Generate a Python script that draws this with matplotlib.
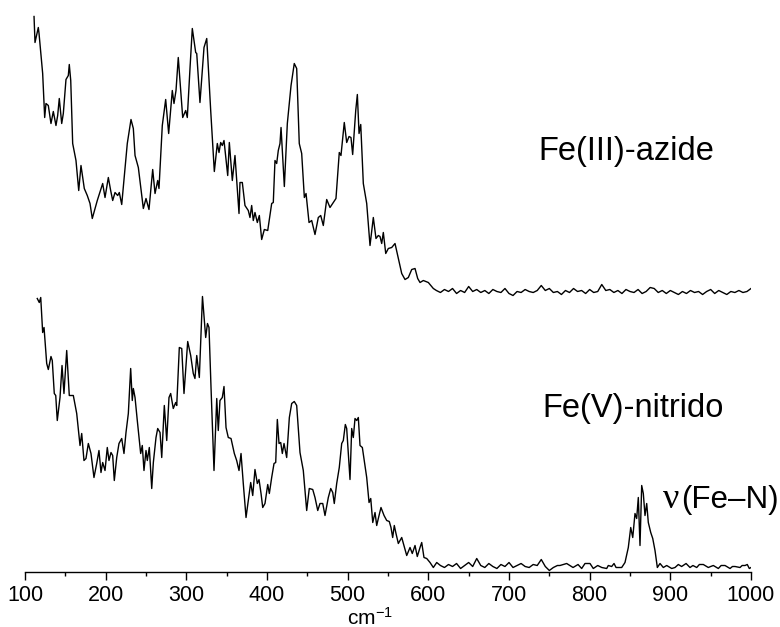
import matplotlib
matplotlib.use("Agg")
import matplotlib.pyplot as plt
from matplotlib.ticker import MultipleLocator

plt.rcParams['font.family'] = ['Liberation Sans', 'DejaVu Sans']
plt.rcParams['mathtext.fontset'] = 'custom'
plt.rcParams['mathtext.rm'] = 'Liberation Sans'
plt.rcParams['mathtext.it'] = 'Liberation Sans:italic'

# ---- data (wavenumber in cm-1, intensity in arbitrary units) ----
azide_x = [111.2, 112.4, 116.5, 117.4, 121.9, 124.4, 126.0, 128.9, 132.2, 135.1, 138.4, 140.5,
           142.5, 145.5, 147.5, 150.8, 153.7, 154.9, 156.7, 159.1, 163.2, 166.6, 169.4, 173.5,
           177.2, 180.6, 183.4, 186.8, 189.6, 196.3, 199.2, 203.3, 206.2, 208.7, 211.6, 214.9,
           216.9, 219.9, 226.8, 231.4, 234.3, 236.4, 240.5, 246.7, 250.0, 253.7, 258.3, 261.2,
           264.5, 266.1, 270.2, 274.4, 278.1, 282.6, 284.7, 287.2, 290.0, 295.5, 299.2, 301.2,
           304.6, 307.4, 311.6, 312.9, 316.9, 321.9, 325.3, 330.2, 334.7, 338.4, 340.5, 342.6,
           344.6, 346.7, 351.3, 353.3, 357.0, 360.3, 365.3, 366.5, 369.4, 372.7, 376.8, 378.9,
           381.0, 383.0, 385.1, 388.0, 390.5, 393.4, 396.7, 400.9, 405.8, 407.8, 409.9, 412.0,
           414.0, 416.1, 417.4, 421.5, 425.2, 429.8, 433.8, 436.8, 440.0, 443.0, 446.3, 448.4,
           452.1, 455.4, 459.5, 463.6, 466.6, 469.8, 474.0, 478.1, 485.5, 489.6, 491.7, 495.8,
           498.8, 501.7, 504.1, 506.2, 510.0, 512.0, 514.1, 516.2, 519.4, 523.6, 527.7, 531.8,
           535.1, 538.0, 540.1, 542.2, 544.2, 547.2, 550.4, 554.6, 558.7, 562.8, 567.0, 571.1,
           575.2, 579.4, 583.5, 586.8, 589.7, 593.8, 600.0, 606.2,
           610, 615, 620, 625, 630, 635, 640, 645, 650, 655, 660, 665, 670, 675, 680, 685, 690,
           695, 700, 705, 710, 715, 720, 725, 730, 735, 740, 745, 750, 755, 760, 765, 770, 775,
           780, 785, 790, 795, 800, 805, 810, 815, 820, 825, 830, 835, 840, 845, 850, 855, 860,
           865, 870, 875, 880, 885, 890, 895, 900, 905, 910, 915, 920, 925, 930, 935, 940, 945,
           950, 955, 960, 965, 970, 975, 980, 985, 990, 995, 1000]
azide_y = [555, 529, 544, 538, 498, 454, 468, 466, 448, 460, 446, 456,
           473, 448, 458, 492, 496, 507, 491, 428, 411, 381, 406, 383,
           376, 368, 353, 363, 371, 388, 374, 394, 381, 371, 379, 376,
           379, 367, 428, 452, 443, 416, 404, 363, 373, 362, 402, 378,
           391, 383, 446, 472, 438, 481, 468, 481, 514, 454, 461, 454,
           504, 543, 519, 518, 469, 524, 533, 461, 400, 428, 419, 429,
           426, 431, 396, 429, 391, 416, 358, 389, 389, 366, 361, 354,
           366, 351, 359, 349, 356, 332, 342, 341, 368, 369, 411, 408,
           421, 428, 444, 385, 448, 486, 508, 503, 428, 418, 374, 378,
           349, 351, 337, 354, 356, 346, 372, 364, 373, 419, 416, 449,
           429, 435, 434, 417, 461, 477, 438, 447, 388, 368, 326, 354,
           333, 336, 335, 328, 339, 318, 323, 324, 328, 313, 298, 292,
           294, 302, 303, 293, 289, 291, 289, 283,
           281, 279, 282, 280, 283, 278, 281, 279, 285, 280, 282, 279, 281, 278, 282, 280, 279,
           283, 278, 276, 280, 279, 282, 280, 279, 281, 286, 281, 283, 279, 280, 277, 281, 279,
           283, 280, 281, 278, 282, 279, 280, 287, 281, 282, 279, 281, 278, 282, 280, 279, 282,
           278, 280, 284, 283, 279, 281, 278, 281, 279, 277, 280, 278, 281, 279, 280, 277, 280,
           282, 278, 281, 279, 277, 280, 279, 281, 279, 280, 283]

nitrido_x = [115.2, 117.7, 119.5, 121.9, 123.6, 126.9, 128.9, 132.2, 133.8, 136.3, 138.1, 140.0,
             143.4, 145.9, 148.3, 151.7, 154.9, 159.9, 164.1, 168.2, 170.3, 173.1, 175.6, 178.5,
             181.8, 185.5, 188.9, 191.7, 194.2, 196.3, 199.2, 202.0, 204.1, 206.6, 208.7, 210.7,
             213.7, 216.5, 219.9, 222.7, 225.2, 228.1, 231.0, 233.0, 234.3, 236.4, 239.2, 243.4,
             245.4, 247.5, 250.0, 251.6, 254.1, 257.1, 259.1, 262.4, 264.5, 267.4, 269.5, 272.7,
             275.7, 278.5, 280.6, 283.8, 286.8, 288.1, 291.3, 294.3, 297.1, 301.7, 305.4, 308.6,
             310.7, 312.9, 316.1, 320.0, 324.0, 326.2, 328.1, 330.6, 334.3, 337.7, 339.6, 341.7,
             344.6, 346.7, 349.2, 352.0, 355.4, 359.5, 362.4, 365.3, 367.8, 370.6, 374.0, 376.8,
             379.8, 382.3, 385.1, 388.0, 390.1, 392.6, 394.7, 397.5, 400.9, 402.9, 405.8, 408.7,
             410.8, 412.8, 414.9, 417.0, 419.0, 421.1, 424.4, 427.7, 430.6, 433.8, 436.8, 440.9,
             445.0, 449.2, 452.4, 456.7, 459.5, 462.9, 465.7, 469.1, 471.9, 476.0, 479.0, 481.5,
             483.4, 486.4, 489.6, 492.6, 494.6, 497.1, 498.8, 502.9, 505.0, 507.0, 509.1, 511.2,
             513.2, 515.3, 518.2, 523.6, 526.5, 528.6, 531.1, 533.9, 536.0, 538.0, 541.3, 545.1,
             548.4, 551.6, 553.7, 555.8, 557.8, 559.9, 562.8, 567.0, 569.8, 573.2, 577.3, 580.1,
             583.5, 586.3, 589.7, 591.8, 594.6, 598.0, 602.1, 606.2, 610.4,
             615, 620, 625, 630, 635, 640, 645, 650, 655, 660, 665, 670, 675, 680, 685, 690, 695,
             700, 705, 710, 715, 720, 725, 730, 735, 740, 745, 750, 755, 760,
             763.2, 771.5, 779.4, 785.6, 790.1, 794.2, 800.4, 804.5, 810.0, 815.0, 821.1, 823.1,
             827.3, 830.2, 832.7, 839.7, 843.8, 847.9, 850.9, 853.4, 856.2, 858.3, 860.3, 862.4,
             864.5, 866.5, 868.6, 870.7, 872.7, 875.7, 878.2, 881.0, 883.9, 887.2, 891.3, 895.5,
             901.7, 905.8, 909.9, 914.0, 919.5, 924.4, 928.0, 932.7, 936.0, 940.9, 947.1, 950.0,
             953.3, 959.5, 963.0, 967.8, 974.0, 977.0, 980.2, 986.4, 989.0, 992.6, 995.4, 997.9,
             1000]
nitrido_y = [273, 269, 274, 239, 244, 208, 202, 215, 211, 178, 176, 151,
             174, 206, 178, 221, 176, 176, 158, 126, 138, 111, 113, 128,
             118, 94, 108, 121, 99, 109, 101, 124, 111, 119, 116, 91,
             114, 128, 133, 118, 139, 158, 203, 171, 183, 174, 151, 118,
             126, 101, 121, 111, 124, 83, 109, 134, 143, 139, 114, 166,
             131, 174, 178, 163, 169, 166, 224, 223, 178, 230, 216, 198,
             193, 216, 194, 275, 234, 248, 244, 184, 101, 173, 141, 171,
             174, 185, 144, 134, 133, 118, 111, 101, 118, 88, 54, 71,
             89, 76, 102, 88, 92, 78, 64, 68, 87, 78, 94, 108,
             109, 152, 128, 129, 118, 128, 114, 154, 168, 170, 166, 119,
             101, 61, 83, 82, 74, 61, 68, 68, 56, 74, 83, 79,
             68, 88, 104, 128, 131, 147, 143, 92, 143, 134, 153, 151,
             154, 126, 124, 94, 69, 73, 49, 59, 46, 53, 64, 56,
             51, 50, 44, 34, 46, 38, 28, 34, 26, 16, 24, 18,
             26, 15, 24, 29, 14, 13, 9, 4, 9,
             6, 4, 7, 5, 8, 3, 6, 9, 5, 13, 6, 4, 8, 5, 3, 7, 5,
             9, 4, 6, 8, 5, 4, 7, 6, 12, 5, 1, 4, 6,
             6, 8, 4, 7, 3, 8, 8, 3, 6, 4, 3, 6,
             5, 8, 4, 4, 9, 24, 44, 34, 58, 53, 74, 26,
             86, 78, 56, 68, 49, 39, 33, 21, 4, 8, 4, 6,
             3, 4, 7, 5, 8, 4, 6, 4, 7, 7, 4, 5,
             6, 3, 6, 6, 3, 5, 5, 4, 6, 6, 7, 3,
             4]

tick_values = [100, 200, 300, 400, 500, 600, 700, 800, 900, 1000]
label_azide = "Fe(III)-azide"
label_nitrido = "Fe(V)-nitrido"
label_nu = "\u03bd"
label_fen = "(Fe\u2013N)"
x_label = "cm$^{-1}$"

W, H = 780, 627
fig = plt.figure(figsize=(W / 100, H / 100), dpi=100)
ax = fig.add_axes([25 / W, (H - 571.5) / H, (751 - 25) / W, 571.5 / H])

ax.plot(azide_x, azide_y, color='black', lw=1.0)
ax.plot(nitrido_x, nitrido_y, color='black', lw=1.0)

ax.set_xlim(100, 1000)
ax.set_ylim(0, 571.5)
for s in ['top', 'left', 'right']:
    ax.spines[s].set_visible(False)
ax.spines['bottom'].set_linewidth(1.0)
ax.set_yticks([])
ax.set_xticks(tick_values)
ax.xaxis.set_minor_locator(MultipleLocator(50))
ax.tick_params(axis='x', which='major', direction='out', length=5.5, width=1.0,
               labelsize=15.5, pad=4)
ax.tick_params(axis='x', which='minor', direction='out', length=3, width=1.0)
ax.patch.set_alpha(0)

fig.text(538 / W, 1 - 160 / H, label_azide, fontsize=23.5, va='baseline', ha='left')
fig.text(542 / W, 1 - 417 / H, label_nitrido, fontsize=23.5, va='baseline', ha='left')
fig.text(663 / W, 1 - 508 / H, label_nu, fontsize=26, va='baseline', ha='left',
         family=['Liberation Serif', 'DejaVu Serif'])
fig.text(681 / W, 1 - 508 / H, label_fen, fontsize=22.5, va='baseline', ha='left')
fig.text(347 / W, 1 - 624.5 / H, x_label, fontsize=15, va='baseline', ha='left')

fig.savefig("out.png", dpi=100)
